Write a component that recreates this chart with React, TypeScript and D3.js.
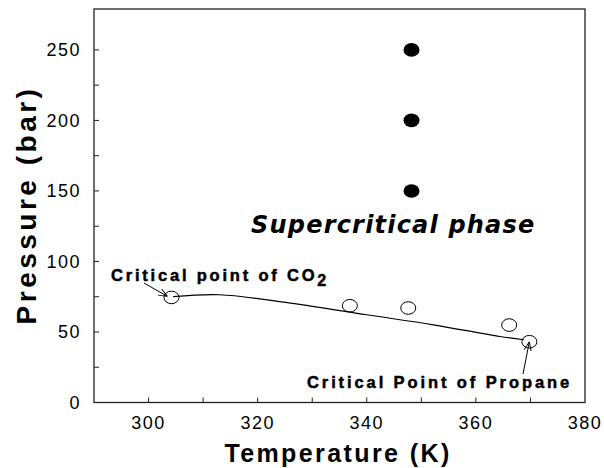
import * as d3 from "d3";

// supercritical runs (filled)
const scTemp = [348.2, 348.2, 348.2];
const scPress = [150, 200, 250];

// measured critical points (open)
const cpTemp = [304.2, 336.9, 347.6, 366.1, 369.8];
const cpPress = [74.5, 68.6, 67.0, 54.9, 43.1];

// fitted critical line
const lineTemp = [304.5, 313, 326, 340, 352.2, 364.4, 368.8];
const linePress = [75, 76.4, 70.5, 62.2, 55.1, 46.8, 44.5];

const xTicks = [300, 310, 320, 330, 340, 350, 360, 370];
const xLabels = [300, 320, 340, 360, 380];
const yTicks = [25, 50, 75, 100, 125, 150, 175, 200, 225, 250];
const yLabels = [0, 50, 100, 150, 200, 250];

const W = 604;
const H = 468;
const m = { left: 94, right: 585, top: 9, bottom: 402.5 };

const App = () => {
  const x = d3.scaleLinear().domain([290, 380]).range([m.left, m.right]);
  const y = d3.scaleLinear().domain([0, 279]).range([m.bottom, m.top]);

  const line = d3
    .line<number>()
    .x((d) => x(lineTemp[d]))
    .y((d) => y(linePress[d]))
    .curve(d3.curveCatmullRom);

  const font = "'Liberation Sans', Arial, sans-serif";

  // arrow anchors
  const co2Tip = [x(cpTemp[0]) - 4, y(cpPress[0]) - 1];
  const prTip = [x(cpTemp[4]), y(cpPress[4])];

  return (
    <svg
      width={W}
      height={H}
      style={{ position: "absolute", left: 0, top: 0, background: "#fff" }}
      fontFamily={font}
    >
      <defs>
        <marker id="arr" viewBox="0 0 10 10" refX="10" refY="5" markerWidth="9" markerHeight="9" orient="auto">
          <path d="M0,1 L10,5 L0,9" fill="none" stroke="#000" strokeWidth="1" />
        </marker>
      </defs>

      {/* frame */}
      <rect
        x={m.left}
        y={m.top}
        width={m.right - m.left}
        height={m.bottom - m.top}
        fill="none"
        stroke="#222"
        strokeWidth={1.3}
      />

      {/* ticks */}
      {xTicks.map((t) => (
        <line key={"xt" + t} x1={x(t)} x2={x(t)} y1={m.bottom} y2={m.bottom - 5} stroke="#222" />
      ))}
      {yTicks.map((t) => (
        <line key={"yt" + t} x1={m.left} x2={m.left + 5} y1={y(t)} y2={y(t)} stroke="#222" />
      ))}

      {/* tick labels */}
      {xLabels.map((t) => (
        <text key={"xl" + t} x={x(t)} y={429} fontSize={18} textAnchor="middle" letterSpacing={1.5}>
          {t}
        </text>
      ))}
      {yLabels.map((t) => (
        <text key={"yl" + t} x={m.left - 13} y={y(t) + 6.5} fontSize={18} textAnchor="end" letterSpacing={1.5}>
          {t}
        </text>
      ))}

      {/* axis titles */}
      <text x={338} y={462} fontSize={25} fontWeight="bold" textAnchor="middle" letterSpacing={2.4}>
        Temperature (K)
      </text>
      <text
        transform={`translate(36,${205}) rotate(-90)`}
        fontSize={28}
        fontWeight="bold"
        textAnchor="middle"
        letterSpacing={3.5}
      >
        Pressure (bar)
      </text>

      {/* fitted line */}
      <path d={line(d3.range(lineTemp.length)) || ""} fill="none" stroke="#000" strokeWidth={1.2} />

      {/* open circles */}
      {cpTemp.map((t, i) => (
        <ellipse key={"cp" + i} cx={x(t)} cy={y(cpPress[i])} rx={7.5} ry={6.3} fill="none" stroke="#000" strokeWidth={1} />
      ))}

      {/* filled circles */}
      {scTemp.map((t, i) => (
        <ellipse key={"sc" + i} cx={x(t)} cy={y(scPress[i])} rx={8} ry={6.8} fill="#000" />
      ))}

      {/* annotations */}
      <text
        x={251}
        y={233}
        fontFamily="'DejaVu Sans', sans-serif"
        fontSize={24}
        fontWeight="bold"
        fontStyle="italic"
        letterSpacing={1.2}
      >
        Supercritical phase
      </text>

      <text x={111} y={281} fontSize={16.5} fontWeight="bold" letterSpacing={2.8} stroke="#000" strokeWidth={0.5}>
        Critical point of CO
        <tspan dy={5} fontSize={16}>
          2
        </tspan>
      </text>
      <line x1={144} y1={283} x2={co2Tip[0]} y2={co2Tip[1]} stroke="#000" markerEnd="url(#arr)" />

      <text x={307} y={388} fontSize={16.5} fontWeight="bold" letterSpacing={2.9} stroke="#000" strokeWidth={0.5}>
        Critical Point of Propane
      </text>
      <line x1={523} y1={374} x2={prTip[0]} y2={prTip[1]} stroke="#000" markerEnd="url(#arr)" />
    </svg>
  );
};

export default App;
